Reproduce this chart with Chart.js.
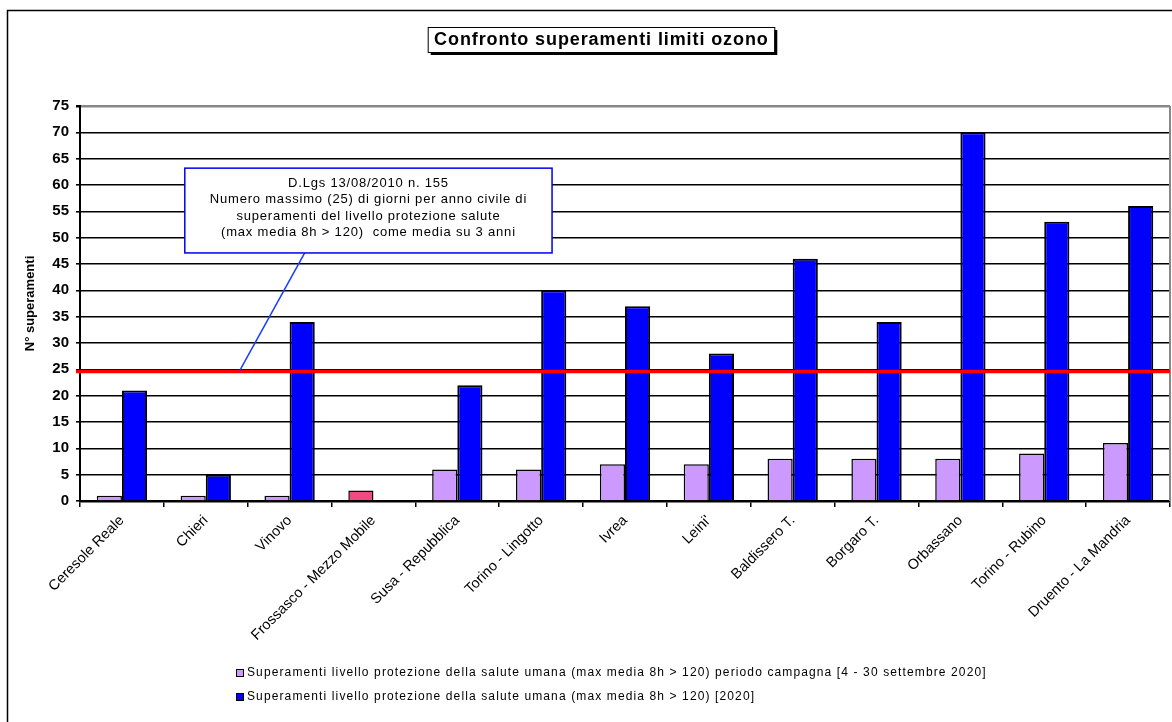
<!DOCTYPE html>
<html>
<head>
<meta charset="utf-8">
<script src="https://cdn.jsdelivr.net/npm/chart.js@4/dist/chart.umd.min.js"></script>
<style>
  html, body { margin: 0; padding: 0; background: #fff; }
  #wrap { width: 1172px; height: 722px; position: relative; }
</style>
</head>
<body>
<div id="wrap"><canvas id="c" width="1172" height="722"></canvas></div>
<script>
// ---- data ----
const categories = ['Ceresole Reale', 'Chieri', 'Vinovo', 'Frossasco - Mezzo Mobile', 'Susa - Repubblica',
  'Torino - Lingotto', 'Ivrea', "Leini'", 'Baldissero T.', 'Borgaro T.', 'Orbassano', 'Torino - Rubino', 'Druento - La Mandria'];
const campaignValues = [1, 1, 1, 2, 6, 6, 7, 7, 8, 8, 8, 9, 11];
const yearValues = [21, 5, 34, null, 22, 40, 37, 28, 46, 34, 70, 53, 56];
const seriesLabels = [
  'Superamenti livello protezione della salute umana (max media 8h > 120) periodo campagna [4 - 30 settembre 2020]',
  'Superamenti livello protezione della salute umana (max media 8h > 120) [2020]'
];
const highlightCategories = ['Frossasco - Mezzo Mobile'];
const limitValue = [24.6];
const yMin = 0, yMax = 75, yStep = 5;
const chartTitle = 'Confronto superamenti limiti ozono';
const yAxisTitle = 'N° superamenti';
const noteLines = [
  'D.Lgs 13/08/2010 n. 155',
  'Numero massimo (25) di giorni per anno civile di',
  'superamenti del livello protezione salute',
  '(max media 8h > 120)  come media su 3 anni'
];
// note box and pointer anchors in data units (category index, value)
const noteBox = { x0: 0.75, x1: 5.13, y0: 63.2, y1: 47.1 };
const notePointer = { fromX: 2.18, fromY: 47.1, toX: 1.40, toY: 24.6 };

const FONT = '"Liberation Sans", Arial, sans-serif';
const campaignColor = '#cc99ff';
const yearColor = '#0000ff';

function campaignFill(ctx) {
  const chart = ctx.chart;
  if (ctx.type === 'data' && highlightCategories.includes(categories[ctx.dataIndex])) {
    const el = ctx.element;
    if (el && isFinite(el.x) && isFinite(el.y) && isFinite(el.base)) {
      const w = el.width || 25;
      const g = chart.ctx.createLinearGradient(el.x - w / 2, el.y, el.x + w / 2, el.base);
      g.addColorStop(0, '#e9a0ff');
      g.addColorStop(0.45, '#f04a80');
      g.addColorStop(1, '#ff0022');
      return g;
    }
    return '#f04a80';
  }
  return campaignColor;
}

const decorPlugin = {
  id: 'decor',
  beforeDraw(chart) {
    const c = chart.ctx;
    c.save();
    c.fillStyle = '#fff';
    c.fillRect(0, 0, chart.width, chart.height);
    c.restore();
  },
  afterDatasetsDraw(chart) {
    const c = chart.ctx;
    const ys = chart.scales.y;
    const area = chart.chartArea;
    const catW = (area.right - area.left) / categories.length;
    const xAt = (i) => area.left + (i + 0.5) * catW;
    c.save();
    // right plot border (gray)
    c.strokeStyle = '#888';
    c.lineWidth = 2;
    c.beginPath();
    c.moveTo(area.right, area.top);
    c.lineTo(area.right, area.bottom);
    c.stroke();
    // limit line
    limitValue.forEach(v => {
      const y = ys.getPixelForValue(v);
      c.strokeStyle = '#ff0000';
      c.lineWidth = 3.5;
      c.beginPath();
      c.moveTo(area.left - 4, y);
      c.lineTo(area.right, y);
      c.stroke();
    });
    // pointer
    c.strokeStyle = '#1a3cff';
    c.lineWidth = 1.5;
    c.beginPath();
    c.moveTo(xAt(notePointer.fromX), ys.getPixelForValue(notePointer.fromY));
    c.lineTo(xAt(notePointer.toX), ys.getPixelForValue(notePointer.toY));
    c.stroke();
    // note box
    const bx0 = xAt(noteBox.x0), bx1 = xAt(noteBox.x1);
    const by0 = ys.getPixelForValue(noteBox.y0), by1 = ys.getPixelForValue(noteBox.y1);
    c.fillStyle = '#fff';
    c.fillRect(bx0, by0, bx1 - bx0, by1 - by0);
    c.strokeStyle = '#0000ee';
    c.lineWidth = 1.5;
    c.strokeRect(bx0, by0, bx1 - bx0, by1 - by0);
    c.fillStyle = '#000';
    c.font = '13px ' + FONT;
    c.letterSpacing = '0.8px';
    c.textAlign = 'center';
    c.textBaseline = 'middle';
    const cx = (bx0 + bx1) / 2;
    const lh = 16.3;
    const startY = (by0 + by1) / 2 - lh * (noteLines.length - 1) / 2 - 2.5;
    noteLines.forEach((t, i) => c.fillText(t, cx, startY + i * lh));
    c.restore();
  },
  afterDraw(chart) {
    const c = chart.ctx;
    c.save();
    // outer frame
    c.strokeStyle = '#000';
    c.lineWidth = 1.5;
    c.strokeRect(7.5, 10.5, chart.width + 20, chart.height + 20);
    // title box with shadow
    c.font = 'bold 18px ' + FONT;
    c.letterSpacing = '0.9px';
    const tw = c.measureText(chartTitle).width;
    const tcx = 601, tcy = 39;
    const bx = tcx - tw / 2 - 6, by = 27, bw = tw + 12, bh = 25;
    c.fillStyle = '#000';
    c.fillRect(bx + 3, by + 3, bw, bh);
    c.fillStyle = '#fff';
    c.fillRect(bx, by, bw, bh);
    c.lineWidth = 1;
    c.strokeStyle = '#000';
    c.strokeRect(bx + 0.5, by + 0.5, bw, bh);
    c.fillStyle = '#000';
    c.textAlign = 'center';
    c.textBaseline = 'middle';
    c.fillText(chartTitle, tcx + 0.4, tcy + 1);
    // legend
    const colors = [campaignColor, yearColor];
    c.font = '12px ' + FONT;
    c.letterSpacing = '1.12px';
    c.textAlign = 'left';
    seriesLabels.forEach((lab, i) => {
      const y = 673 + i * 24;
      c.fillStyle = colors[i];
      c.fillRect(236, y - 4, 8, 8);
      c.strokeStyle = '#000';
      c.lineWidth = 1;
      c.strokeRect(236.5, y - 3.5, 7, 7);
      c.fillStyle = '#000';
      c.fillText(lab, 247, y);
    });
    c.restore();
  }
};

new Chart(document.getElementById('c'), {
  type: 'bar',
  data: {
    labels: categories,
    datasets: [
      { label: seriesLabels[0], data: campaignValues, backgroundColor: campaignFill, borderColor: '#000', borderWidth: 1.5, borderSkipped: 'bottom' },
      { label: seriesLabels[1], data: yearValues, backgroundColor: yearColor, borderColor: '#000', borderWidth: 2, borderSkipped: 'bottom' }
    ]
  },
  options: {
    responsive: false,
    animation: false,
    devicePixelRatio: 1,
    layout: { padding: { top: 106, right: 2, bottom: 0, left: 0 } },
    datasets: { bar: { categoryPercentage: 0.6, barPercentage: 1.0 } },
    plugins: { legend: { display: false }, title: { display: false }, tooltip: { enabled: false } },
    scales: {
      x: {
        afterFit(s) { s.height = 221; },
        grid: { offset: true, drawOnChartArea: false, drawTicks: true, tickLength: 6, color: '#000', lineWidth: 1.5 },
        border: { color: '#000', width: 2.5 },
        ticks: { autoSkip: false, maxRotation: 45, minRotation: 45, color: '#000', font: { family: FONT, size: 14.5 }, padding: 5 }
      },
      y: {
        min: yMin, max: yMax,
        afterFit(s) { s.width = 80; },
        grid: {
          color: (ctx) => (ctx.tick && ctx.tick.value === yMax) ? '#888' : '#000',
          lineWidth: (ctx) => (ctx.tick && ctx.tick.value === yMax) ? 2.5 : 1.6,
          drawTicks: true, tickLength: 4, tickColor: '#000'
        },
        border: { color: '#000', width: 2 },
        ticks: { stepSize: yStep, color: '#000', font: { family: FONT, size: 15, weight: 'bold' }, padding: 7 },
        title: { display: true, text: yAxisTitle, color: '#000', font: { family: FONT, size: 13, weight: 'bold' }, padding: { top: 23 } }
      }
    }
  },
  plugins: [decorPlugin]
});
</script>
</body>
</html>
